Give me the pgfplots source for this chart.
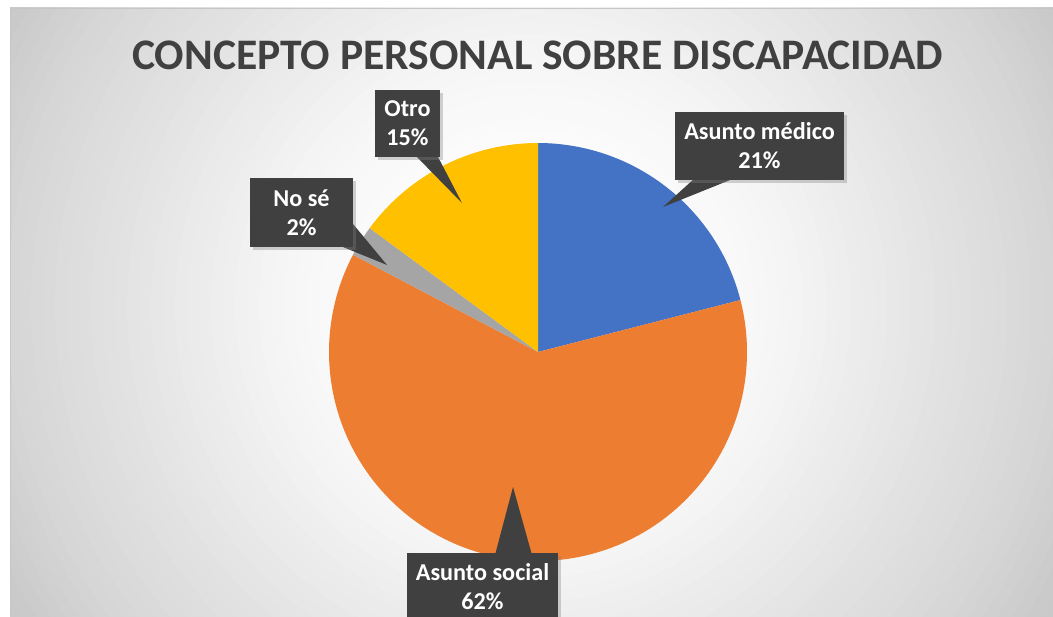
\documentclass[border=0pt]{standalone}
\usepackage{pgfplots}
\pgfplotsset{compat=1.18}
\usepackage{fontspec}
\setmainfont{Carlito}
\usetikzlibrary{shadows}
\definecolor{cBlue}{HTML}{4472C4}
\definecolor{cOrange}{HTML}{ED7D31}
\definecolor{cGray}{HTML}{A5A5A5}
\definecolor{cYellow}{HTML}{FFC000}
\definecolor{boxc}{HTML}{404040}
\definecolor{titlec}{HTML}{404040}
% data (percent)
\def\pMed{21.0}
\def\pSoc{61.7}
\def\pNos{2.4}
\def\pOtr{14.9}
\pgfmathsetmacro{\aA}{90-3.6*\pMed}
\pgfmathsetmacro{\aB}{\aA-3.6*\pSoc}
\pgfmathsetmacro{\aC}{\aB-3.6*\pNos}
\pgfmathsetmacro{\aD}{\aC-3.6*\pOtr}
\def\cx{538}
\def\cy{264}
\def\rr{209}
\tikzset{lbl/.style={rectangle, fill=boxc, text=white, align=center,
  font=\bfseries\fontsize{12.1}{14.5}\selectfont, inner sep=0pt,
  drop shadow={shadow xshift=1.5pt, shadow yshift=-1.5pt, opacity=0.35}},
  ptr/.style={fill=boxc}}
\begin{document}
\begin{tikzpicture}[x=0.5pt,y=0.5pt]
% background (1 px = 0.5pt)
\fill[white] (0,0) rectangle (1053,616);
\begin{scope}
\clip (10,0) rectangle (1053,608);
\foreach \i in {0,...,50} {
  \pgfmathsetmacro{\rad}{620-12*\i}
  \pgfmathsetmacro{\g}{\rad>=600 ? 0.79 : (\rad>=521 ? 0.79+0.05*(600-\rad)/79 : (\rad>=250 ? 0.84+0.125*(521-\rad)/271 : (\rad>=120 ? 0.965+0.035*(250-\rad)/130 : 1)))}
  \definecolor{tmpc}{gray}{\g}
  \fill[tmpc] (531,310) circle[radius=\rad];
}
\end{scope}
\draw[gray!45, line width=0.4pt] (10,0) -- (10,608) -- (1053,608);
\begin{axis}[scale only axis, width=526.5pt, height=308pt, at={(0,0)}, anchor=south west,
  xmin=0, xmax=1053, ymin=0, ymax=616, hide axis, clip=false]
% pie
\addplot[fill=cBlue, draw=none, domain=\aA:90, samples=80, variable=\t]
  ({\cx+\rr*cos(\t)},{\cy+\rr*sin(\t)}) -- (axis cs:\cx,\cy) -- cycle;
\addplot[fill=cOrange, draw=none, domain=\aB:\aA, samples=160, variable=\t]
  ({\cx+\rr*cos(\t)},{\cy+\rr*sin(\t)}) -- (axis cs:\cx,\cy) -- cycle;
\addplot[fill=cGray, draw=none, domain=\aC:\aB, samples=20, variable=\t]
  ({\cx+\rr*cos(\t)},{\cy+\rr*sin(\t)}) -- (axis cs:\cx,\cy) -- cycle;
\addplot[fill=cYellow, draw=none, domain=\aD:\aC, samples=60, variable=\t]
  ({\cx+\rr*cos(\t)},{\cy+\rr*sin(\t)}) -- (axis cs:\cx,\cy) -- cycle;
% title
\node[text=titlec, font=\bfseries\fontsize{21.8}{26}\selectfont] at (axis cs:537.5,561) {CONCEPTO PERSONAL SOBRE DISCAPACIDAD};
% label pointers
\fill[ptr] (axis cs:415,461) -- (axis cs:437,461) -- (axis cs:462,413) -- cycle;
\fill[ptr] (axis cs:353,392) -- (axis cs:338,371) -- (axis cs:387,351) -- cycle;
\fill[ptr] (axis cs:695,438) -- (axis cs:735,438) -- (axis cs:663,409) -- cycle;
\fill[ptr] (axis cs:495,61) -- (axis cs:532,61) -- (axis cs:513,129) -- cycle;
% labels
\node[lbl, minimum width=32.5pt, minimum height=33.5pt] at (axis cs:407.5,492.5) {Otro\\15\%};
\node[lbl, minimum width=51.5pt, minimum height=34.5pt] at (axis cs:301.5,403.5) {No sé\\2\%};
\node[lbl, minimum width=84.5pt, minimum height=34pt] at (axis cs:759.5,470) {Asunto médico\\21\%};
\node[lbl, minimum width=75.5pt, minimum height=34pt] at (axis cs:482.5,29) {Asunto social\\62\%};
\end{axis}
\pgfresetboundingbox
\useasboundingbox (0,0) rectangle (1053,616);
\end{tikzpicture}
\end{document}
